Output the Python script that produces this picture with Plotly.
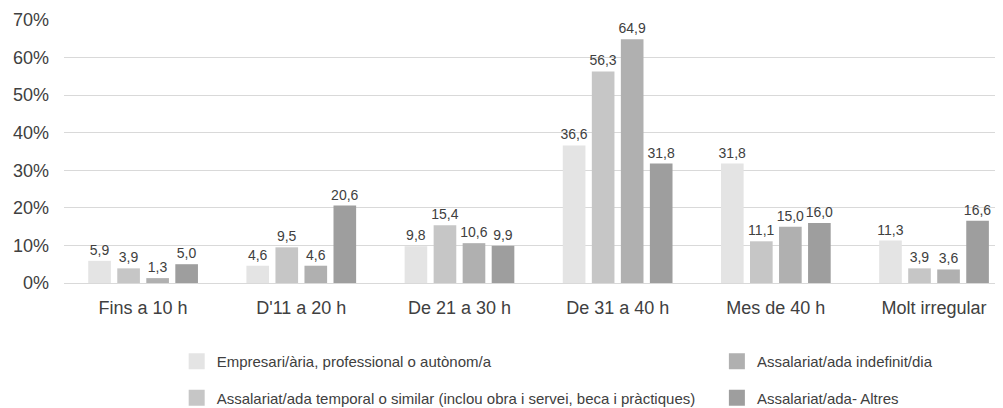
import plotly.graph_objects as go

categories = ["Fins a 10 h", "D'11 a 20 h", "De 21 a 30 h", "De 31 a 40 h", "Mes de 40 h", "Molt irregular"]
series_names = [
    "Empresari/ària, professional o autònom/a",
    "Assalariat/ada temporal o similar (inclou obra i servei, beca i pràctiques)",
    "Assalariat/ada indefinit/dia",
    "Assalariat/ada- Altres",
]
empresari = [5.9, 4.6, 9.8, 36.6, 31.8, 11.3]
temporal = [3.9, 9.5, 15.4, 56.3, 11.1, 3.9]
indefinit = [1.3, 4.6, 10.6, 64.9, 15.0, 3.6]
altres = [5.0, 20.6, 9.9, 31.8, 16.0, 16.6]
values = [empresari, temporal, indefinit, altres]
colors = ["#e4e4e4", "#c6c6c6", "#b0b0b0", "#9e9e9e"]
tick_vals = [0, 10, 20, 30, 40, 50, 60, 70]
tick_text = ["0%", "10%", "20%", "30%", "40%", "50%", "60%", "70%"]

FONT = "Liberation Sans, Arial, sans-serif"
TXT = "#404040"

fig = go.Figure()
for name, vals, col in zip(series_names, values, colors):
    fig.add_trace(go.Bar(
        x=categories, y=vals, name=name, marker=dict(color=col, line=dict(width=0)),
        texttemplate="%{y:.1f}", textposition="outside", constraintext="none",
        cliponaxis=False, textfont=dict(size=14, color=TXT, family=FONT),
        showlegend=False, hoverinfo="skip",
    ))

legend_of = ["legend", "legend", "legend2", "legend2"]
for i, (name, col, lg) in enumerate(zip(series_names, colors, legend_of)):
    fig.add_trace(go.Scatter(
        x=[None], y=[None], mode="markers", name=name,
        marker=dict(symbol="square", size=16, color=col, line=dict(width=0)),
        legend=lg, legendgroup="g%d" % i, showlegend=True,
    ))

leg_common = dict(
    orientation="v", yanchor="top", xanchor="left", y=-0.2357,
    font=dict(size=15, color=TXT, family=FONT), tracegroupgap=14,
    bgcolor="rgba(0,0,0,0)", borderwidth=0,
)

# page body adds an 8px offset, so the figure is 8px smaller than the window
fig.update_layout(
    width=995, height=400,
    margin=dict(l=56, r=0, t=12, b=125, autoexpand=False),
    paper_bgcolor="white", plot_bgcolor="white",
    barmode="group", bargap=0.266, bargroupgap=0.22,
    separators=",.",
    font=dict(family=FONT, color=TXT, size=18),
    legend=dict(x=0.12, **leg_common),
    legend2=dict(x=0.6953, **leg_common),
    xaxis=dict(
        type="category", range=[-0.5, 5.436], showgrid=False, zeroline=False,
        showline=False, ticks="", tickfont=dict(size=18, color=TXT, family=FONT),
        ticklabelstandoff=12,
    ),
    yaxis=dict(
        range=[0, 70], tickmode="array", tickvals=tick_vals, ticktext=tick_text,
        showgrid=True, gridcolor="#d9d9d9", gridwidth=1, zeroline=True,
        zerolinecolor="#d9d9d9", zerolinewidth=1, showline=False, ticks="",
        tickfont=dict(size=18, color=TXT, family=FONT), ticklabelstandoff=14,
    ),
)

fig.write_html("out.html")
